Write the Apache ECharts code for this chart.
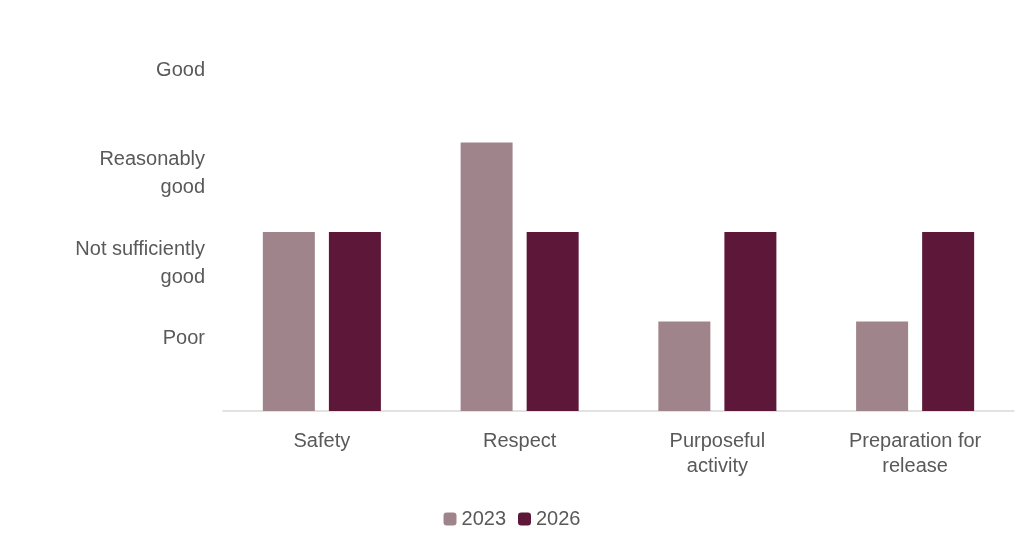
<!DOCTYPE html>
<html><head><meta charset="utf-8">
<script src="https://cdn.jsdelivr.net/npm/echarts@6/dist/echarts.min.js"></script>
<style>html,body{margin:0;padding:0;background:#fff}#c{width:1024px;height:552px}</style>
</head><body><div id="c"></div>
<script>
var categories = ['Safety', 'Respect', 'Purposeful\nactivity', 'Preparation for\nrelease'];
var levels = ['', 'Poor', 'Not sufficiently\ngood', 'Reasonably\ngood', 'Good'];
var s2023 = [2, 3, 1, 1];
var s2026 = [2, 2, 2, 2];

var chart = echarts.init(document.getElementById('c'));
chart.setOption({
  textStyle: { fontFamily: 'Arial, Liberation Sans, sans-serif' },
  color: ['#a0848b', '#5c1739'],
  legend: {
    bottom: 18, itemWidth: 13, itemHeight: 13, itemGap: 12,
    textStyle: { fontSize: 20, color: '#595959' },
    data: ['2023', '2026']
  },
  grid: { left: 223, right: 10, top: 53, bottom: 141 },
  xAxis: {
    type: 'category', data: categories,
    axisLine: { lineStyle: { color: '#d9d9d9', width: 1.5 } },
    axisTick: { show: false },
    axisLabel: { fontSize: 20, color: '#595959', lineHeight: 25, margin: 18 }
  },
  yAxis: {
    type: 'value', min: 0, max: 4, interval: 1,
    splitLine: { show: false }, axisLine: { show: false }, axisTick: { show: false },
    axisLabel: {
      fontSize: 20, color: '#595959', lineHeight: 28, margin: 18,
      verticalAlign: 'top', padding: [3, 0, 0, 0],
      formatter: function (v) { return levels[v] || ''; }
    }
  },
  series: [
    { name: '2023', type: 'bar', data: s2023, barWidth: 52, barGap: '27%' },
    { name: '2026', type: 'bar', data: s2026, barWidth: 52 }
  ]
});
</script></body></html>
